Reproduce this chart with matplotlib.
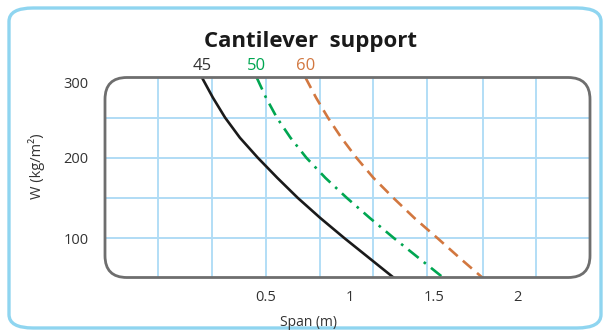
import matplotlib
matplotlib.use("Agg")
import matplotlib.pyplot as plt
from matplotlib.patches import FancyBboxPatch

plt.rcParams['font.family'] = ['Open Sans', 'DejaVu Sans']

load = [300, 275, 250, 225, 200, 175, 150, 125, 100, 75, 50]
span_45 = [0.119, 0.184, 0.257, 0.345, 0.452, 0.568, 0.690, 0.824, 0.967, 1.116, 1.265]
span_50 = [0.445, 0.500, 0.565, 0.646, 0.741, 0.854, 0.982, 1.119, 1.262, 1.411, 1.560]
span_60 = [0.735, 0.798, 0.869, 0.949, 1.039, 1.140, 1.259, 1.384, 1.521, 1.655, 1.793]

curve_names = ['45', '50', '60']
curve_colors = ['#1a1a1a', '#00a651', '#d2773f']
label_colors = ['#333333', '#00a651', '#d2773f']

x_ticks = [0.5, 1, 1.5, 2]
x_ticklabels = ['0.5', '1', '1.5', '2']
x_grid = [-0.14, 0.18, 0.5, 0.82, 1.14, 1.46, 1.79, 2.11]
y_ticks = [100, 200, 300]
y_grid = [100, 150, 200, 250]

fig = plt.figure(figsize=(6.03, 3.36), dpi=100)

# outer light blue rounded frame
frame = FancyBboxPatch((9 / 603, 8 / 336), 592 / 603, 320 / 336,
                       boxstyle="round,pad=0,rounding_size=0.04",
                       transform=fig.transFigure, facecolor='none',
                       edgecolor='#8fd5f0', linewidth=2.4, zorder=-1)
fig.patches.append(frame)

ax = fig.add_axes([105 / 603, 1 - 277.5 / 336, 485 / 603, 200 / 336])
ax.patch.set_visible(False)

# light blue grid
for gx in x_grid:
    ax.axvline(gx, color='#a6d8f5', lw=1.2, zorder=1)
for gy in y_grid:
    ax.axhline(gy, color='#b0dcf5', lw=1.4, zorder=1)

ax.plot(span_45, load, color=curve_colors[0], lw=1.9, zorder=3)
ax.plot(span_50, load, color=curve_colors[1], lw=1.9, dashes=(5, 2.5, 1, 2.5), zorder=3)
ax.plot(span_60, load, color=curve_colors[2], lw=1.9, dashes=(4.5, 2.6), zorder=3)

for name, col, sp in zip(curve_names, label_colors,
                         [span_45, span_50, span_60]):
    ax.text(sp[0], 1.02, name, transform=ax.get_xaxis_transform(),
            color=col, fontsize=12, ha='center', va='bottom')

ax.set_xlim(-0.458, 2.429)
ax.set_ylim(51, 300)

ax.set_xticks(x_ticks)
ax.set_xticklabels(x_ticklabels)
ax.set_yticks(y_ticks)
ax.tick_params(which='both', length=0)
ax.tick_params(axis='x', pad=9, labelsize=10.5, labelcolor='#333333')
ax.tick_params(axis='y', pad=12, labelsize=10.5, labelcolor='#333333')
ax.get_yticklabels()[-1].set_va('top')

for s in ax.spines.values():
    s.set_visible(False)

# rounded grey plot frame
box = FancyBboxPatch((0, 0), 1, 1, boxstyle="round,pad=0,rounding_size=0.045",
                     transform=ax.transAxes, facecolor='none',
                     edgecolor='#6e6e6e', linewidth=2.0, zorder=5,
                     clip_on=False, mutation_aspect=485 / 200)
ax.add_patch(box)

ax.set_xlabel('Span (m)', fontsize=10, color='#333333')
ax.xaxis.set_label_coords(0.419, -0.19)
ax.set_ylabel('W (kg/m²)', fontsize=10.5, color='#333333')
ax.yaxis.set_label_coords(-0.124, 0.555)

fig.text(311 / 603, 1 - 41 / 336, 'Cantilever  support', fontsize=16,
         fontweight='bold', color='#1a1a1a', ha='center', va='center')

fig.savefig('out.png', dpi=100)
